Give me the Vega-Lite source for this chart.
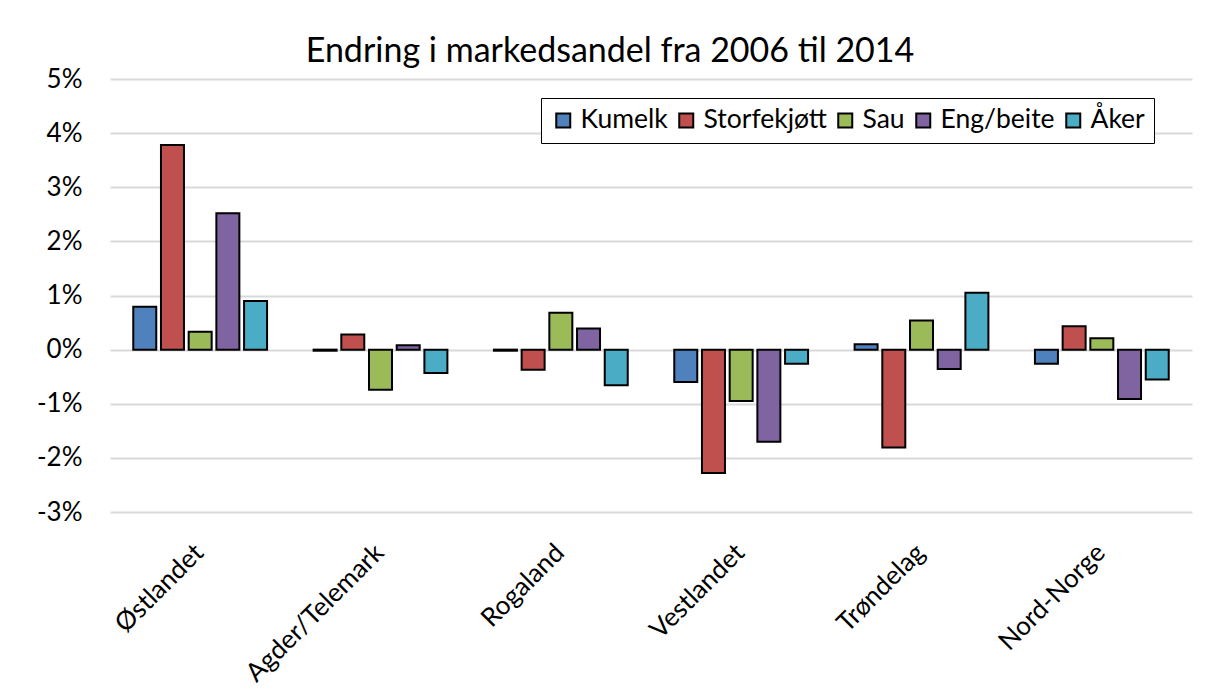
{
  "$schema": "https://vega.github.io/schema/vega-lite/v6.json",
  "width": 1082,
  "height": 433,
  "autosize": "none",
  "padding": {"left": 110, "top": 79, "right": 21, "bottom": 181},
  "background": "white",
  "title": {
    "text": "Endring i markedsandel fra 2006 til 2014",
    "font": "Lato",
    "fontSize": 34,
    "fontWeight": "normal",
    "color": "black",
    "anchor": "middle",
    "dx": -41,
    "offset": -3
  },
  "data": {
    "values": [
      {"region": "Østlandet", "serie": "Kumelk", "v": 0.79},
      {"region": "Østlandet", "serie": "Storfekjøtt", "v": 3.78},
      {"region": "Østlandet", "serie": "Sau", "v": 0.33},
      {"region": "Østlandet", "serie": "Eng/beite", "v": 2.52},
      {"region": "Østlandet", "serie": "Åker", "v": 0.9},
      {"region": "Agder/Telemark", "serie": "Kumelk", "v": -0.02},
      {"region": "Agder/Telemark", "serie": "Storfekjøtt", "v": 0.28},
      {"region": "Agder/Telemark", "serie": "Sau", "v": -0.74},
      {"region": "Agder/Telemark", "serie": "Eng/beite", "v": 0.08},
      {"region": "Agder/Telemark", "serie": "Åker", "v": -0.43},
      {"region": "Rogaland", "serie": "Kumelk", "v": -0.02},
      {"region": "Rogaland", "serie": "Storfekjøtt", "v": -0.37},
      {"region": "Rogaland", "serie": "Sau", "v": 0.68},
      {"region": "Rogaland", "serie": "Eng/beite", "v": 0.39},
      {"region": "Rogaland", "serie": "Åker", "v": -0.66},
      {"region": "Vestlandet", "serie": "Kumelk", "v": -0.6},
      {"region": "Vestlandet", "serie": "Storfekjøtt", "v": -2.28},
      {"region": "Vestlandet", "serie": "Sau", "v": -0.95},
      {"region": "Vestlandet", "serie": "Eng/beite", "v": -1.7},
      {"region": "Vestlandet", "serie": "Åker", "v": -0.26},
      {"region": "Trøndelag", "serie": "Kumelk", "v": 0.1},
      {"region": "Trøndelag", "serie": "Storfekjøtt", "v": -1.81},
      {"region": "Trøndelag", "serie": "Sau", "v": 0.54},
      {"region": "Trøndelag", "serie": "Eng/beite", "v": -0.36},
      {"region": "Trøndelag", "serie": "Åker", "v": 1.05},
      {"region": "Nord-Norge", "serie": "Kumelk", "v": -0.26},
      {"region": "Nord-Norge", "serie": "Storfekjøtt", "v": 0.43},
      {"region": "Nord-Norge", "serie": "Sau", "v": 0.21},
      {"region": "Nord-Norge", "serie": "Eng/beite", "v": -0.91},
      {"region": "Nord-Norge", "serie": "Åker", "v": -0.55}
    ]
  },
  "mark": {"type": "bar", "stroke": "black", "strokeWidth": 2},
  "encoding": {
    "x": {
      "field": "region",
      "type": "nominal",
      "sort": null,
      "scale": {"paddingInner": 0, "paddingOuter": 0},
      "axis": {
        "title": null,
        "labelAngle": -45,
        "labelAlign": "right",
        "labelBaseline": "top",
        "labelFont": "Lato",
        "labelFontSize": 26,
        "labelColor": "black",
        "labelPadding": 27,
        "labelOffset": -10,
        "labelLimit": 400,
        "ticks": false,
        "domain": false,
        "grid": false
      }
    },
    "xOffset": {
      "field": "serie",
      "type": "nominal",
      "sort": ["Kumelk", "Storfekjøtt", "Sau", "Eng/beite", "Åker"],
      "scale": {"paddingInner": 0.17, "paddingOuter": 0.84}
    },
    "y": {
      "field": "v",
      "type": "quantitative",
      "scale": {"domain": [-3, 5], "nice": false},
      "axis": {
        "title": null,
        "values": [-3, -2, -1, 0, 1, 2, 3, 4, 5],
        "labelExpr": "datum.value + '%'",
        "labelFont": "Lato",
        "labelFontSize": 26,
        "labelColor": "black",
        "labelPadding": 28,
        "ticks": false,
        "domain": false,
        "grid": true,
        "gridColor": "#d9d9d9",
        "gridWidth": 2
      }
    },
    "fill": {
      "field": "serie",
      "type": "nominal",
      "sort": ["Kumelk", "Storfekjøtt", "Sau", "Eng/beite", "Åker"],
      "scale": {
        "domain": ["Kumelk", "Storfekjøtt", "Sau", "Eng/beite", "Åker"],
        "range": ["#4F81BD", "#C0504D", "#9BBB59", "#8064A2", "#4BACC6"]
      },
      "legend": {
        "title": null,
        "orient": "none",
        "legendX": 431,
        "legendY": 19,
        "direction": "horizontal",
        "columns": 5,
        "strokeColor": "black",
        "fillColor": "white",
        "padding": 9,
        "symbolType": "square",
        "symbolSize": 196,
        "symbolStrokeColor": "black",
        "symbolStrokeWidth": 2,
        "labelFont": "Lato",
        "labelFontSize": 26.5,
        "labelColor": "black",
        "labelOffset": 4,
        "columnPadding": 5,
        "labelLimit": 300
      }
    }
  },
  "config": {
    "view": {"stroke": null}
  }
}
